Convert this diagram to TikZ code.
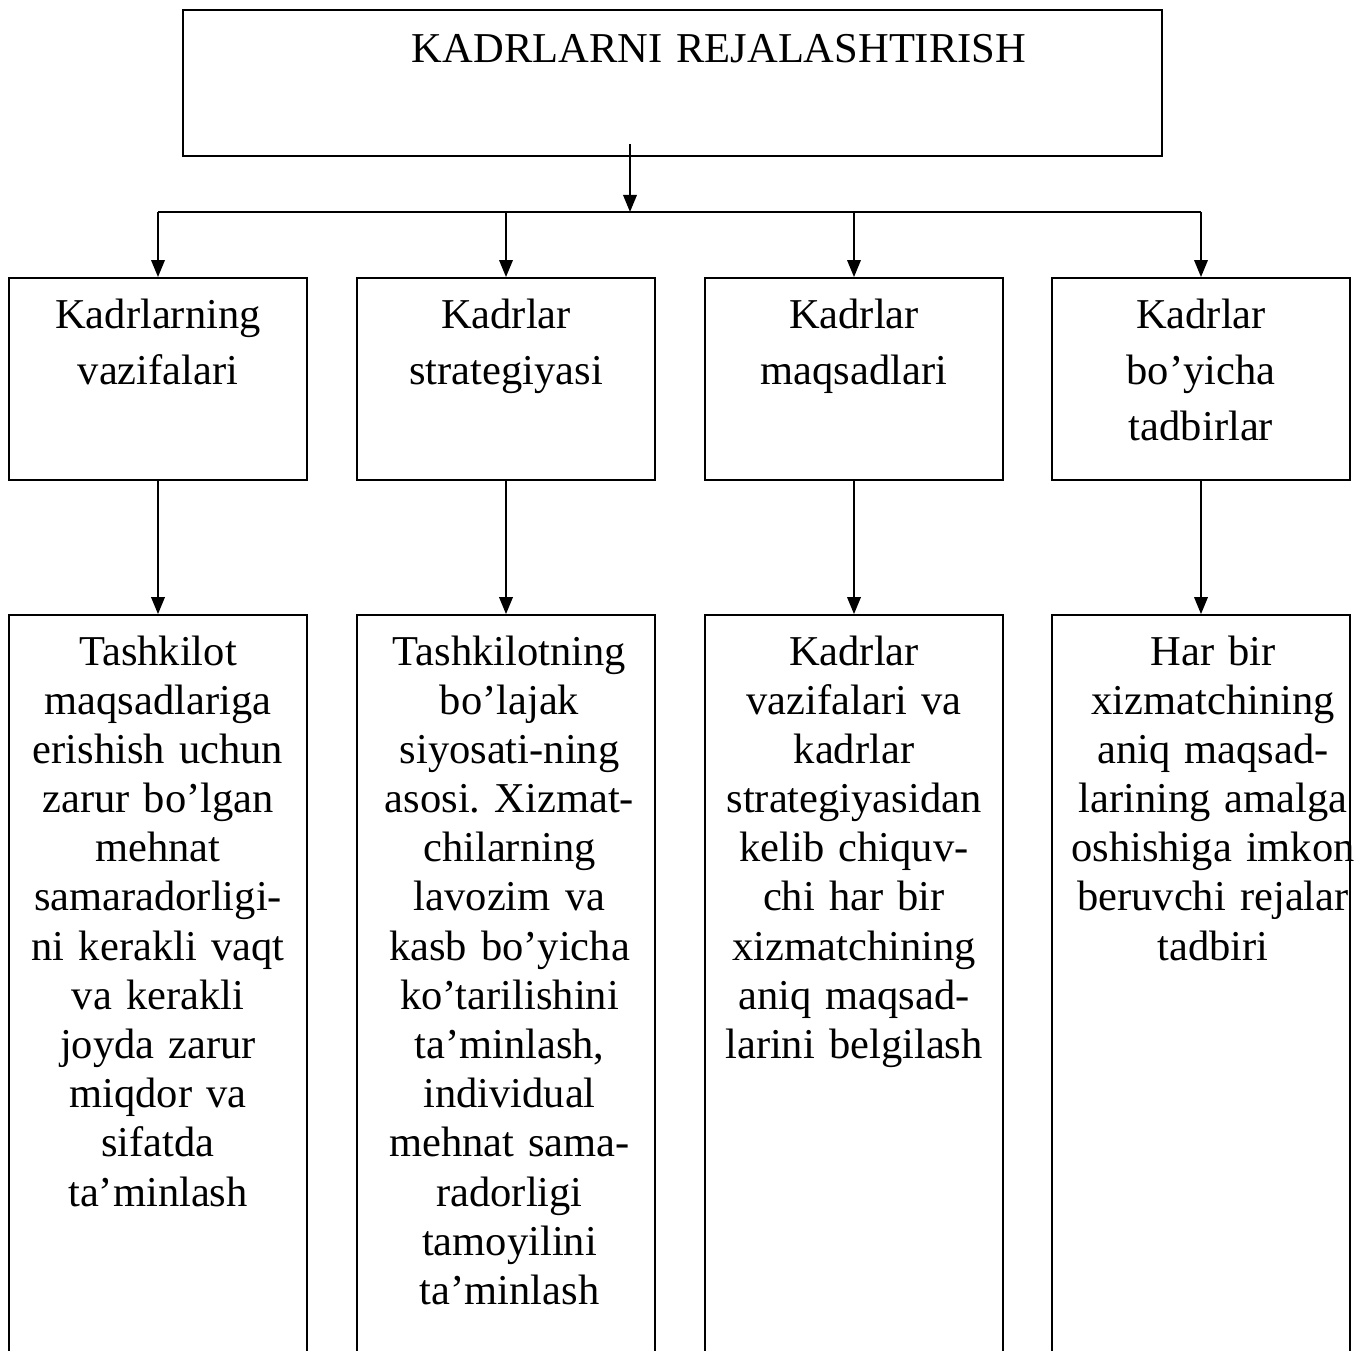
\documentclass[tikz,border=0pt]{standalone}
\usepackage{fontspec}
\setmainfont{Liberation Serif}
\frenchspacing
\usetikzlibrary{positioning,arrows.meta}
\tikzset{
  >={Triangle[length=0.34cm,width=0.27cm]},
  blok/.style={draw, line width=1.1pt, minimum width=5.96cm},
  ustblok/.style={blok, minimum height=4.04cm},
  pastblok/.style={blok, minimum height=15.7cm},
  matn/.style={anchor=base, text width=7cm, align=center, inner sep=0pt,
    font=\fontsize{24.2pt}{28pt}\selectfont},
  sarlavha/.style={matn, font=\fontsize{24.2pt}{31.6pt}\selectfont},
  line/.style={draw, line width=1.1pt},
}
\begin{document}
\begin{tikzpicture}[x=0.02cm, y=-0.02cm]
  \useasboundingbox (0,0) rectangle (1367,1351);
  \clip (0,0) rectangle (1367,1351);
  % bosh blok
  \node[draw, line width=1.1pt, minimum width=19.58cm, minimum height=2.92cm] (bosh) at (672.5,83) {};
  \node[matn, text width=16cm] (boshmatn) at (719,63) {KADRLARNI REJALASHTIRISH};
  % ikkinchi qator
  \node[ustblok] (vaz) at (158,379) {};
  \node[ustblok] (str) at (506,379) {};
  \node[ustblok] (maq) at (854,379) {};
  \node[ustblok] (tad) at (1201,379) {};
  \node[sarlavha] (vazt) at (158,329) {Kadrlarning\\vazifalari};
  \node[sarlavha] (strt) at (506,329) {Kadrlar\\strategiyasi};
  \node[sarlavha] (maqt) at (854,329) {Kadrlar\\maqsadlari};
  \node[sarlavha] (tadt) at (1201,329) {Kadrlar\\bo’yicha\\tadbirlar};
  % uchinchi qator
  \node[pastblok] (vazp) at (158,1007.5) {};
  \node[pastblok] (strp) at (506,1007.5) {};
  \node[pastblok] (maqp) at (854,1007.5) {};
  \node[pastblok] (tadp) at (1201,1007.5) {};
  \node[matn] (vazpt) at (158,665) {Tashkilot\\maqsadlariga\\erishish uchun\\zarur bo’lgan\\mehnat\\samaradorligi-\\ni kerakli vaqt\\va kerakli\\joyda zarur\\miqdor va\\sifatda\\ta’minlash};
  \node[matn] (strpt) at (509.5,665) {Tashkilotning\\bo’lajak\\siyosati-ning\\asosi. Xizmat-\\chilarning\\lavozim va\\kasb bo’yicha\\ko’tarilishini\\ta’minlash,\\individual\\mehnat sama-\\radorligi\\tamoyilini\\ta’minlash};
  \node[matn] (maqpt) at (854,665) {Kadrlar\\vazifalari va\\kadrlar\\strategiyasidan\\kelib chiquv-\\chi har bir\\xizmatchining\\aniq maqsad-\\larini belgilash};
  \node[matn] (tadpt) at (1213,665) {Har bir\\xizmatchining\\aniq maqsad-\\larining amalga\\oshishiga imkon\\beruvchi rejalar\\tadbiri};
  % ulanishlar
  \coordinate (manba) at (630,144);
  \coordinate (tugun) at (630,212);
  \draw[line, ->] (manba) -- (tugun);
  \draw[line] (tugun -| vaz) -- (tugun -| tad);
  \foreach \b in {vaz,str,maq,tad}{
    \draw[line, ->] (tugun -| \b) -- (\b);
    \draw[line, ->] (\b) -- (\b p);
  }
\end{tikzpicture}
\end{document}
